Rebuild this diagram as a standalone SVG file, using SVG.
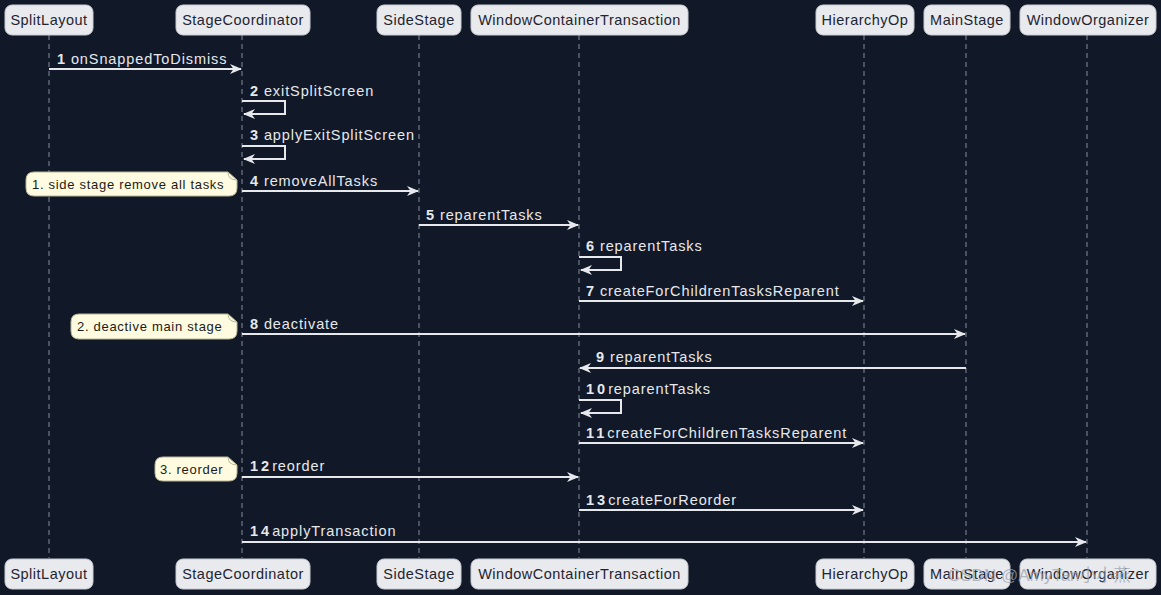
<svg xmlns="http://www.w3.org/2000/svg" width="1161" height="595" viewBox="0 0 1161 595">
<defs>
<style>
.actor rect{fill:#e8eaee;stroke:#c9ccd2;stroke-width:1}
.actor text{font-family:"Liberation Sans",Arial,sans-serif;font-size:14.5px;fill:#1f2430;text-anchor:middle;letter-spacing:0.5px}
.life{stroke:#6b7280;stroke-width:1.3;stroke-dasharray:5 4}
.msg{stroke:#e6e8ec;stroke-width:2;fill:none}
.lbl{font-family:"Liberation Sans",Arial,sans-serif;font-size:14.5px;fill:#e6e8ec;letter-spacing:0.9px}
.num{font-weight:bold}
.note path.b{fill:#fefbe0;stroke:#b9b596;stroke-width:1}
.note path.f{fill:none;stroke:#b9b596;stroke-width:1}
.note text{font-family:"Liberation Sans",Arial,sans-serif;font-size:13px;fill:#1a1a1a;letter-spacing:0.7px}
</style>
<marker id="ah" viewBox="0 0 12 10" refX="11" refY="5" markerWidth="12" markerHeight="10" markerUnits="userSpaceOnUse" orient="auto">
<path d="M0,0 L12,5 L0,10 L3.5,5 z" fill="#e6e8ec"/>
</marker>
</defs>
<rect width="1161" height="595" fill="#111828"/>
<g id="lifelines">
<line class="life" x1="49" y1="35" x2="49" y2="558"/>
<line class="life" x1="242" y1="35" x2="242" y2="558"/>
<line class="life" x1="419" y1="35" x2="419" y2="558"/>
<line class="life" x1="579" y1="35" x2="579" y2="558"/>
<line class="life" x1="864" y1="35" x2="864" y2="558"/>
<line class="life" x1="966" y1="35" x2="966" y2="558"/>
<line class="life" x1="1087" y1="35" x2="1087" y2="558"/>
</g>
<g id="actor-SplitLayout" class="actor"><rect x="5" y="5" width="88" height="30" rx="7"/><text x="49" y="25">SplitLayout</text><rect x="5" y="559" width="88" height="30" rx="7"/><text x="49" y="579">SplitLayout</text></g>
<g id="actor-StageCoordinator" class="actor"><rect x="176" y="5" width="134" height="30" rx="7"/><text x="243" y="25">StageCoordinator</text><rect x="176" y="559" width="134" height="30" rx="7"/><text x="243" y="579">StageCoordinator</text></g>
<g id="actor-SideStage" class="actor"><rect x="377" y="5" width="84" height="30" rx="7"/><text x="419" y="25">SideStage</text><rect x="377" y="559" width="84" height="30" rx="7"/><text x="419" y="579">SideStage</text></g>
<g id="actor-WindowContainerTransaction" class="actor"><rect x="471" y="5" width="217" height="30" rx="7"/><text x="579.5" y="25">WindowContainerTransaction</text><rect x="471" y="559" width="217" height="30" rx="7"/><text x="579.5" y="579">WindowContainerTransaction</text></g>
<g id="actor-HierarchyOp" class="actor"><rect x="816" y="5" width="98" height="30" rx="7"/><text x="865" y="25">HierarchyOp</text><rect x="816" y="559" width="98" height="30" rx="7"/><text x="865" y="579">HierarchyOp</text></g>
<g id="actor-MainStage" class="actor"><rect x="924" y="5" width="86" height="30" rx="7"/><text x="967" y="25">MainStage</text><rect x="924" y="559" width="86" height="30" rx="7"/><text x="967" y="579">MainStage</text></g>
<g id="actor-WindowOrganizer" class="actor"><rect x="1020" y="5" width="136" height="30" rx="7"/><text x="1088" y="25">WindowOrganizer</text><rect x="1020" y="559" width="136" height="30" rx="7"/><text x="1088" y="579">WindowOrganizer</text></g>
<g id="notes">
<g id="note1" class="note"><path class="b" d="M34,172 H228 L237,180 V188 Q237,196 229,196 H34 Q26,196 26,188 V180 Q26,172 34,172 Z"/><path class="f" d="M228,172 Q228,180 237,180"/><text x="32" y="189">1. side stage remove all tasks</text></g>
<g id="note2" class="note"><path class="b" d="M79,314 H228 L237,322 V331 Q237,339 229,339 H79 Q71,339 71,331 V322 Q71,314 79,314 Z"/><path class="f" d="M228,314 Q228,322 237,322"/><text x="77" y="331">2. deactive main stage</text></g>
<g id="note3" class="note"><path class="b" d="M163,457 H228 L237,465 V473 Q237,481 229,481 H163 Q155,481 155,473 V465 Q155,457 163,457 Z"/><path class="f" d="M228,457 Q228,465 237,465"/><text x="160" y="474">3. reorder</text></g>
</g>
<g id="connectors">
<line class="msg" x1="49" y1="69" x2="241" y2="69" marker-end="url(#ah)"/>
<path class="msg" d="M242,101 H285 V114 H244" marker-end="url(#ah)"/>
<path class="msg" d="M242,146 H285 V159 H244" marker-end="url(#ah)"/>
<line class="msg" x1="242" y1="191" x2="418" y2="191" marker-end="url(#ah)"/>
<line class="msg" x1="419" y1="225" x2="578" y2="225" marker-end="url(#ah)"/>
<path class="msg" d="M579,257 H621 V270 H581" marker-end="url(#ah)"/>
<line class="msg" x1="579" y1="301" x2="863" y2="301" marker-end="url(#ah)"/>
<line class="msg" x1="242" y1="334" x2="965" y2="334" marker-end="url(#ah)"/>
<line class="msg" x1="966" y1="368" x2="580" y2="368" marker-end="url(#ah)"/>
<path class="msg" d="M579,400 H621 V413 H581" marker-end="url(#ah)"/>
<line class="msg" x1="579" y1="443" x2="863" y2="443" marker-end="url(#ah)"/>
<line class="msg" x1="242" y1="477" x2="578" y2="477" marker-end="url(#ah)"/>
<line class="msg" x1="579" y1="510" x2="863" y2="510" marker-end="url(#ah)"/>
<line class="msg" x1="242" y1="542" x2="1086" y2="542" marker-end="url(#ah)"/>
</g>
<g id="labels" class="lbl">
<text class="lbl" x="57" y="64"><tspan class="num">1</tspan> onSnappedToDismiss</text>
<text class="lbl" x="250" y="96"><tspan class="num">2</tspan> exitSplitScreen</text>
<text class="lbl" x="250" y="140"><tspan class="num">3</tspan> applyExitSplitScreen</text>
<text class="lbl" x="250" y="186"><tspan class="num">4</tspan> removeAllTasks</text>
<text class="lbl" x="426" y="220"><tspan class="num">5</tspan> reparentTasks</text>
<text class="lbl" x="586" y="251"><tspan class="num">6</tspan> reparentTasks</text>
<text class="lbl" x="586" y="296"><tspan class="num">7</tspan> createForChildrenTasksReparent</text>
<text class="lbl" x="250" y="329"><tspan class="num">8</tspan> deactivate</text>
<text class="lbl" x="596" y="362"><tspan class="num">9</tspan> reparentTasks</text>
<text class="lbl" x="586" y="394"><tspan class="num" letter-spacing="3">10</tspan>reparentTasks</text>
<text class="lbl" x="586" y="438"><tspan class="num" letter-spacing="3">11</tspan>createForChildrenTasksReparent</text>
<text class="lbl" x="250" y="471"><tspan class="num" letter-spacing="3">12</tspan>reorder</text>
<text class="lbl" x="586" y="505"><tspan class="num" letter-spacing="3">13</tspan>createForReorder</text>
<text class="lbl" x="250" y="536"><tspan class="num" letter-spacing="3">14</tspan>applyTransaction</text>
</g>
<text x="948" y="581" font-family="'Liberation Sans','Noto Sans CJK SC',sans-serif" font-size="17" fill="#9ea3ad" fill-opacity="0.75">CSDN @AmyTan小小燕</text>
</svg>
